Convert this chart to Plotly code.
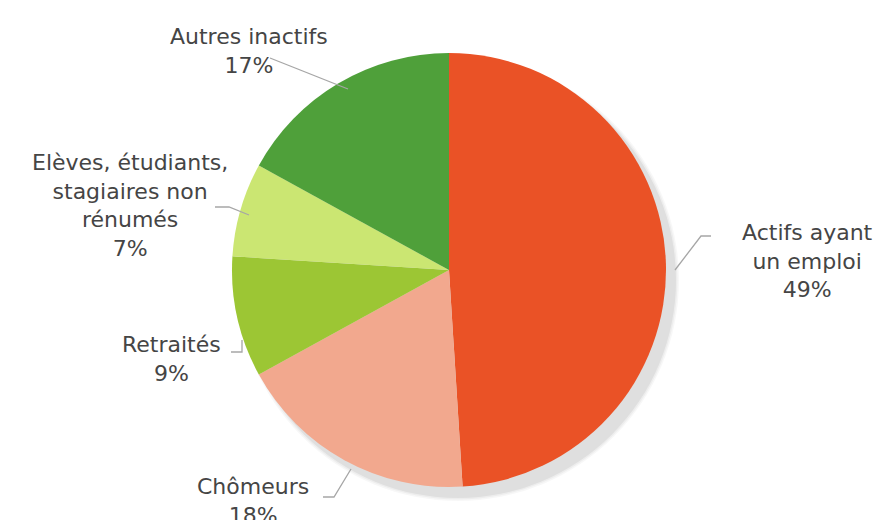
import plotly.graph_objects as go

labels = ["Actifs ayant<br>un emploi", "Chômeurs", "Retraités",
          "Elèves, étudiants,<br>stagiaires non<br>rénumés", "Autres inactifs"]
values = [49, 18, 9, 7, 17]
colors = ["#EA5226", "#F2A88E", "#9CC634", "#CBE672", "#4FA03A"]

W, H = 882, 520
cx, cy, r = 449, 270, 217
dom_off = 8  # plotly internal offset compensation

# label anchor positions (pixels, centre of text block) and leader lines
label_pos = [(799, 253), (245, 493), (163, 351), (122, 197), (241, 43)]
leaders = [
    [(703, 228), (693, 228), (667, 262)],
    [(315, 489), (326, 489), (343, 461)],
    [(223, 344), (234, 344), (234, 332)],
    [(207, 199), (221, 199), (241, 207)],
    [(262, 50), (340, 81)],
]

def px(x):
    return x / W

def py(y):
    return 1 - y / H

fig = go.Figure()
fig.add_trace(go.Pie(
    labels=labels, values=values, sort=False, direction="clockwise",
    rotation=0, marker=dict(colors=colors, line=dict(width=0)),
    textinfo="none", hoverinfo="skip", showlegend=False,
    domain=dict(x=[px(cx - r - dom_off), px(cx + r - dom_off)],
                y=[py(cy + r - dom_off), py(cy - r - dom_off)]),
))

shapes = []
# soft shadow
for k, op in [(4, 0.03), (2.5, 0.04), (1, 0.06)]:
    shapes.append(dict(type="circle", xref="paper", yref="paper", layer="below",
                       x0=px(cx - r - k + 1), x1=px(cx + r + k + 1),
                       y0=py(cy + r + k + 2), y1=py(cy - r - k + 2),
                       line=dict(width=0), fillcolor=f"rgba(0,0,0,{op})"))
for pts in leaders:
    path = "M " + " L ".join(f"{px(x)},{py(y)}" for x, y in pts)
    shapes.append(dict(type="path", xref="paper", yref="paper", path=path,
                       line=dict(color="#A6A6A6", width=1.3)))

annotations = []
for lab, v, (x, y) in zip(labels, values, label_pos):
    annotations.append(dict(
        text=f"{lab}<br>{v}%", x=px(x), y=py(y), xref="paper", yref="paper",
        showarrow=False, xanchor="center", yanchor="middle", align="center",
        font=dict(family="DejaVu Sans", size=22, color="#454545")))

fig.update_layout(
    width=W, height=H, margin=dict(l=0, r=0, t=0, b=0),
    paper_bgcolor="white", plot_bgcolor="white",
    shapes=shapes, annotations=annotations,
)
fig.write_html("out.html")
